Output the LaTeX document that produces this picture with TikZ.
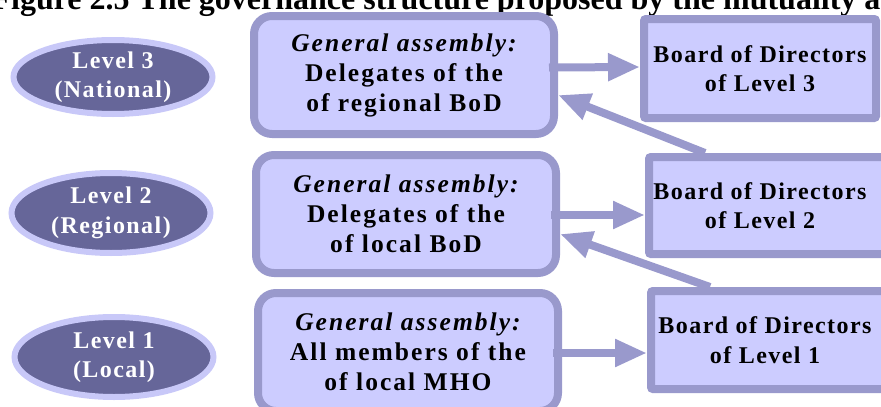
\documentclass[tikz,border=0pt]{standalone}
\usepackage{fontspec}
\setmainfont{Liberation Serif}
\newfontfamily\govfont{Liberation Serif}[LetterSpace=6]
\newfontfamily\gafont{Liberation Serif}[LetterSpace=8]
\usetikzlibrary{shapes.geometric,arrows.meta}
\definecolor{boxfill}{HTML}{CCCCFF}
\definecolor{boxline}{HTML}{9999CC}
\definecolor{levelfill}{HTML}{666699}
\definecolor{levelring}{HTML}{C8C8F8}

\begin{document}
\begin{tikzpicture}[x=1pt,y=-1pt,
  govtext/.style={font={\govfont\bfseries\fontsize{24}{29.5}\selectfont}, align=center},
  gatext/.style={font={\gafont\bfseries\fontsize{25.5}{30}\selectfont}, align=center},
  levelnode/.style={ellipse, draw=levelring, fill=levelfill, line width=6pt,
    text=white, govtext, minimum width=199pt, inner sep=0pt},
  gabox/.style={rectangle, rounded corners=18pt, draw=boxline, fill=boxfill,
    line width=8pt, minimum width=300pt, minimum height=118pt, gatext},
  bodbox/.style={rectangle, rounded corners=2pt, draw=boxline, fill=boxfill,
    line width=8pt},
  flow/.style={draw=boxline, line width=8pt, -{Triangle[length=32pt,width=26pt]}}]
\clip (0,0) rectangle (881,407);

% caption, cut off at the top
\node[font={\bfseries\fontsize{32}{36}\selectfont}, anchor=base east] (title) at (884,9)
  {Figure 2.5 The governance structure proposed by the mutuality a};

% levels
\node[levelnode, minimum height=74pt] (lvl3) at (113,77) {Level 3\\(National)};
\node[levelnode, minimum height=80pt] (lvl2) at (111,213) {Level 2\\(Regional)};
\node[levelnode, minimum height=80pt] (lvl1) at (114,357) {Level 1\\(Local)};

% general assemblies
\node[gabox] (ga3) at (404,75) {{\itshape General assembly:}\\Delegates of the\\of regional BoD};
\node[gabox] (ga2) at (406,214) {{\itshape General assembly:}\\Delegates of the\\of local BoD};
\node[gabox] (ga1) at (408,352) {{\itshape General assembly:}\\All members of the\\of local MHO};

% boards of directors
\node[bodbox, minimum width=232pt, minimum height=99pt, govtext] (bod3) at (760,68.5)
  {Board of Directors\\of Level 3};
\node[bodbox, minimum width=256pt, minimum height=97pt] (bod2) at (777,205.5) {};
\node[govtext] (bod2text) at (760,205.5) {Board of Directors\\of Level 2};
\node[bodbox, minimum width=254pt, minimum height=98pt] (bod1) at (778,340) {};
\node[govtext] (bod1text) at (765,340) {Board of Directors\\of Level 1};

% arrows
\draw[flow] ([shift={(-9,-7.5)}]ga3.east) -- ([shift={(0,-1.5)}]bod3.west);
\draw[flow] ([shift={(-9,1)}]ga2.east) -- ([shift={(0,9.5)}]bod2.west);
\draw[flow] ([shift={(-9,1)}]ga1.east) -- ([shift={(0,13)}]bod1.west);
\draw[flow] ([shift={(60,0)}]bod2.north west) -- ([shift={(0,20)}]ga3.east);
\draw[flow] ([shift={(63,0)}]bod1.north west) -- ([shift={(0,20)}]ga2.east);
\end{tikzpicture}
\end{document}
